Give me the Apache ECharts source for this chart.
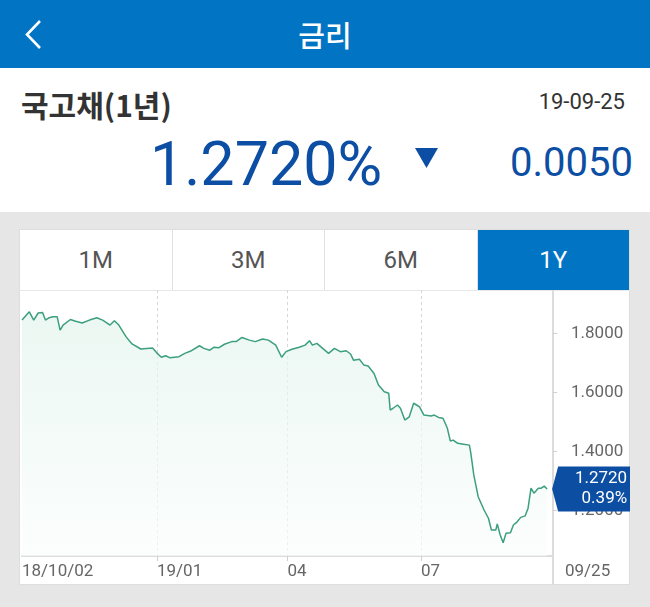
<!DOCTYPE html>
<html>
<head>
<meta charset="utf-8">
<script src="https://cdn.jsdelivr.net/npm/echarts@6.0.0/dist/echarts.min.js"></script>
<style>
body { margin:0; width:650px; height:607px; overflow:hidden; background:#e6e6e6; font-family:Roboto, "Noto Sans CJK KR", sans-serif; position:relative; }
#header { position:absolute; left:0; top:0; width:650px; height:68px; background:#0274c4; }
#header .title { position:absolute; left:0; width:650px; top:0; line-height:68px; text-align:center; color:#fff; font-size:29px; font-weight:500; font-family:"Noto Sans CJK KR", sans-serif; }
#info { position:absolute; left:0; top:68px; width:650px; height:144px; background:#fff; }
.abs { position:absolute; white-space:nowrap; }
#tabs { position:absolute; left:19px; top:229px; width:611px; height:61px; background:#fff; display:flex; box-sizing:border-box; border:1px solid #dedede; border-bottom:none; }
#tabs div { flex:1; text-align:center; line-height:60px; font-size:24px; color:#555; border-right:1px solid #e2e2e2; }
#tabs div.on { background:#0274c4; color:#fff; border-right:none; }
#panel { position:absolute; left:19px; top:290px; width:611px; height:295px; background:#fff; box-sizing:border-box; border:1px solid #dedede; border-top:1px solid #e8e8e8; }
#main { position:absolute; left:19px; top:290px; width:611px; height:295px; }
</style>
</head>
<body>
<div id="header">
  <svg class="abs" style="left:0;top:0" width="60" height="68"><polyline points="40,21 27,34.5 40,48" fill="none" stroke="#fff" stroke-width="2.6"/></svg>
  <div class="title">금리</div>
</div>
<div id="info">
  <div class="abs" style="left:21px;top:14px;font-size:30px;font-weight:700;color:#333;font-family:'Noto Sans CJK KR',sans-serif;">국고채(1년)</div>
  <div class="abs" style="right:25px;top:21px;font-size:22px;color:#333;">19-09-25</div>
  <div class="abs" style="left:150px;top:61px;font-size:61px;line-height:70px;color:#0c4ea3;">1.2720%</div>
  <svg class="abs" style="left:0;top:0" width="650" height="144"><polygon points="415,80 438,80 426.5,100" fill="#0c4ea3"/></svg>
  <div class="abs" style="right:17px;top:71px;font-size:40px;line-height:48px;color:#0c4ea3;">0.0050</div>
</div>
<div id="tabs"><div>1M</div><div>3M</div><div>6M</div><div class="on">1Y</div></div>
<div id="panel"></div>
<div id="main"></div>
<script>
var dates = [
    '2018-10-02','2018-10-07','2018-10-10','2018-10-13','2018-10-16','2018-10-18','2018-10-20','2018-10-23','2018-10-26','2018-10-28','2018-10-30',
    '2018-11-04','2018-11-07','2018-11-12','2018-11-17','2018-11-22','2018-11-26',
    '2018-12-01','2018-12-04','2018-12-07','2018-12-12','2018-12-16','2018-12-22','2018-12-30',
    '2019-01-02','2019-01-05','2019-01-08','2019-01-11','2019-01-17','2019-01-21','2019-01-25','2019-01-31',
    '2019-02-03','2019-02-07','2019-02-10','2019-02-13','2019-02-17','2019-02-22','2019-02-25',
    '2019-03-01','2019-03-06','2019-03-10','2019-03-15','2019-03-19','2019-03-24','2019-03-28','2019-03-31',
    '2019-04-04','2019-04-09','2019-04-13','2019-04-16','2019-04-18','2019-04-21','2019-04-25','2019-04-29',
    '2019-05-03','2019-05-07','2019-05-11','2019-05-14','2019-05-16','2019-05-20','2019-05-23','2019-05-26','2019-05-30',
    '2019-06-02','2019-06-06','2019-06-09','2019-06-10','2019-06-12','2019-06-15','2019-06-17','2019-06-20','2019-06-23','2019-06-26','2019-06-28','2019-06-30',
    '2019-07-03','2019-07-08','2019-07-10','2019-07-13','2019-07-16','2019-07-19','2019-07-21','2019-07-23','2019-07-26','2019-07-30',
    '2019-08-03','2019-08-04','2019-08-06','2019-08-09','2019-08-13','2019-08-16','2019-08-18','2019-08-21','2019-08-22','2019-08-24','2019-08-25','2019-08-26','2019-08-28','2019-08-31',
    '2019-09-02','2019-09-04','2019-09-07','2019-09-10','2019-09-12','2019-09-14','2019-09-16','2019-09-19','2019-09-21','2019-09-23','2019-09-25'
]
var rates = [
    1.845,1.873,1.845,1.869,1.871,1.845,1.852,1.856,1.856,1.811,1.828,
    1.847,1.842,1.835,1.845,1.853,1.845,
    1.828,1.843,1.828,1.788,1.764,1.747,1.750,
    1.733,1.719,1.724,1.717,1.721,1.732,1.740,1.758,
    1.749,1.743,1.753,1.751,1.763,1.772,1.772,
    1.786,1.777,1.772,1.781,1.777,1.760,1.719,1.738,
    1.746,1.753,1.760,1.775,1.760,1.766,1.749,1.732,
    1.749,1.738,1.741,1.730,1.709,1.712,1.693,1.689,1.664,
    1.625,1.602,1.597,1.540,1.546,1.557,1.546,1.506,1.517,1.563,1.557,1.551,
    1.523,1.520,1.523,1.515,1.512,1.478,1.435,1.438,1.427,1.424,
    1.421,1.393,1.320,1.246,1.201,1.173,1.133,1.133,1.154,1.116,1.122,1.090,1.122,1.124,
    1.150,1.158,1.176,1.181,1.207,1.275,1.258,1.275,1.275,1.282,1.272
]
var xLabelDates = ['2018-10-02', '2019-01-02', '2019-04-01', '2019-07-01']
var xLabelTexts = ['18/10/02', '19/01', '04', '07']
var xTickDates = ['2019-01-02', '2019-04-01', '2019-07-01']
var xRange = ['2018-10-02', '2019-09-29']
var yTicks = [1.2, 1.4, 1.6, 1.8]
var lastDateText = '09/25'
var changePct = '0.39%'

function toTime(s) {
    return +echarts.time.parse(s)
}
function dayKey(v) {
    return echarts.time.format(v, '{yyyy}-{MM}-{dd}', false)
}

var seriesData = []
for (var i = 0; i < dates.length; i++) {
    seriesData.push([toTime(dates[i]), rates[i]])
}
var lastIdx = dates.length - 1

var myChart = echarts.init(document.getElementById('main'))
var option = {
    animation: false,
    grid: { left: 3, right: 77, top: 0, bottom: 29 },
    xAxis: {
        type: 'value',
        min: toTime(xRange[0]),
        max: toTime(xRange[1]),
        axisLine: { lineStyle: { color: '#dcdcdc', width: 2 } },
        axisTick: { show: true, length: 5, lineStyle: { color: '#d0d0d0' }, customValues: xTickDates.map(toTime) },
        splitLine: { show: true, lineStyle: { color: '#d6d6d6', type: [3, 3], width: 1 } },
        axisLabel: {
            customValues: xLabelDates.map(toTime),
            align: 'left',
            margin: 7,
            color: '#666',
            fontSize: 17,
            fontFamily: 'Roboto',
            formatter: function (value) {
                var idx = xLabelDates.indexOf(dayKey(value))
                return idx >= 0 ? xLabelTexts[idx] : ''
            }
        }
    },
    yAxis: {
        type: 'value',
        position: 'right',
        min: 1.045,
        max: 1.947,
        axisLine: { show: true, lineStyle: { color: '#dcdcdc', width: 2 } },
        axisTick: { show: true, length: 4, lineStyle: { color: '#d0d0d0' }, customValues: yTicks },
        splitLine: { show: false },
        axisLabel: {
            customValues: yTicks,
            margin: 18,
            color: '#666',
            fontSize: 17,
            fontFamily: 'Roboto',
            formatter: function (v) { return v.toFixed(4) }
        }
    },
    graphic: [
        { type: 'line', shape: { x1: 534, y1: 266, x2: 534, y2: 295 }, style: { stroke: '#dcdcdc', lineWidth: 2 } },
        { type: 'text', left: 546, top: 273, style: { text: lastDateText, fill: '#666', font: '17px Roboto' } }
    ],
    series: [{
        type: 'line',
        data: seriesData,
        showSymbol: false,
        smooth: false,
        lineStyle: { color: '#3c9f7d', width: 1.5 },
        itemStyle: { color: '#3c9f7d' },
        areaStyle: {
            color: new echarts.graphic.LinearGradient(0, 0, 0, 1, [
                { offset: 0, color: '#e2f3ec' },
                { offset: 1, color: '#fafdfc' }
            ])
        },
        markPoint: {
            symbol: 'path://M6,0L78,0L78,45L6,45L0,22.5Z',
            symbolSize: [78, 45],
            symbolOffset: [44, 0],
            itemStyle: { color: '#0b4ea2' },
            label: {
                show: true,
                position: 'insideRight',
                distance: 3,
                color: '#fff',
                fontSize: 17,
                lineHeight: 20,
                fontFamily: 'Roboto',
                align: 'right',
                formatter: function () { return rates[lastIdx].toFixed(4) + '\n' + changePct }
            },
            data: [{ coord: [seriesData[lastIdx][0], rates[lastIdx]] }]
        }
    }]
}
myChart.setOption(option)
</script>
</body>
</html>
